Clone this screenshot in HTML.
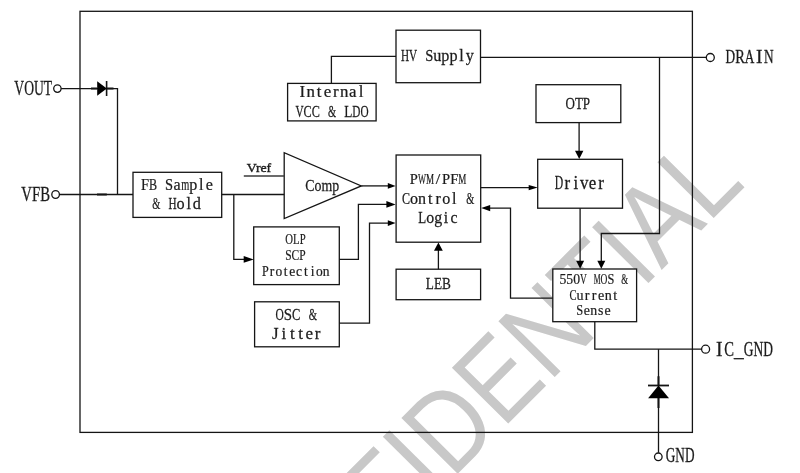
<!DOCTYPE html>
<html><head><meta charset="utf-8"><style>
html,body{margin:0;padding:0;background:#fff;width:800px;height:473px;overflow:hidden}
svg{display:block}
</style></head><body>
<svg width="800" height="473" viewBox="0 0 800 473">
<text transform="matrix(0.69806 -0.69815 0.81870 0.81063 234.97 696.75)" font-family="Liberation Sans" font-size="100" fill="#c8c8c8">CONFIDENTIAL</text>

<g fill="none" stroke="#151515" stroke-width="1.3">
<rect x="80" y="11.3" width="612.4" height="421.1"/>
<g fill="#fff">
<rect x="133" y="172.3" width="88.70" height="45.10"/>
<rect x="253.7" y="226.9" width="85.60" height="57.70"/>
<rect x="254.6" y="301.8" width="84.70" height="45.00"/>
<rect x="396.1" y="155" width="84.60" height="87.20"/>
<rect x="396.1" y="269.2" width="84.50" height="30.50"/>
<rect x="396" y="30.2" width="84.50" height="52.50"/>
<rect x="287.6" y="83.4" width="88.50" height="37.50"/>
<rect x="536" y="84.7" width="84.80" height="37.90"/>
<rect x="537.7" y="159.3" width="84.80" height="48.90"/>
<rect x="552.8" y="269.0" width="83.80" height="52.70"/>
<path d="M284.2 152.75 L284.2 218.6 L361.3 185.9 Z"/>
</g>
<circle cx="57.4" cy="88.6" r="3.7"/>
<path d="M61.1 88.6 H117.5 V194.5"/>
<path d="M91 88.6 H97 M107 88.6 H113.5" stroke-width="2"/>
<path d="M106.6 81 V96" stroke-width="1.6"/>
<circle cx="55.6" cy="194.5" r="3.8"/>
<path d="M59.4 194.5 H133"/>
<path d="M97 194.5 H106.8" stroke-width="2"/>
<path d="M221.7 194.5 H284.2 M233.8 194.5 V259.4 H245"/>
<path d="M243.8 175.9 H284.2" stroke="#3a3a3a" stroke-width="1.5"/>
<path d="M361.3 185.9 H388"/>
<path d="M339.3 259.4 H358.4 V204.4 H387"/>
<path d="M339.3 323.1 H369.5 V223.1 H388"/>
<path d="M438.4 269.2 V250"/>
<path d="M396 56.4 H331.4 V83.4"/>
<path d="M480.5 57.3 H706.3"/>
<circle cx="710.3" cy="57.5" r="4"/>
<path d="M659.5 57.3 V233.5 H601.3 V261"/>
<path d="M579.1 122.6 V151.5"/>
<path d="M480.7 187.6 H529"/>
<path d="M580.1 208.2 V261"/>
<path d="M552.8 298.1 H510.5 V208.1 H490"/>
<path d="M594.8 321.7 V349.2 H701.6"/>
<circle cx="705.6" cy="349.2" r="4"/>
<path d="M658.5 349.2 V452.8"/>
<circle cx="658.3" cy="456.8" r="3.8"/>
<path d="M658.5 376.2 V386 M658.5 398 V408" stroke-width="2"/>
<path d="M648 385.5 H669" stroke-width="1.8"/>
</g>
<g fill="#000" stroke="none">
<path d="M97.2 81.3 L97.2 95.8 L106.8 88.6 Z"/>
<path d="M648.1 398.3 L669 398.3 L658.5 385.5 Z"/>
<path d="M253.70 259.40 L243.70 256.10 L243.70 262.70 Z"/>
<path d="M395.60 185.90 L387.80 183.10 L387.80 188.70 Z"/>
<path d="M395.60 204.40 L386.40 201.10 L386.40 207.70 Z"/>
<path d="M395.60 223.10 L387.80 220.30 L387.80 225.90 Z"/>
<path d="M438.40 242.60 L434.00 250.80 L442.80 250.80 Z"/>
<path d="M579.20 159.00 L575.00 150.80 L583.40 150.80 Z"/>
<path d="M537.70 187.60 L528.70 184.90 L528.70 190.30 Z"/>
<path d="M580.10 268.80 L576.10 260.80 L584.10 260.80 Z"/>
<path d="M601.30 268.80 L597.30 260.80 L605.30 260.80 Z"/>
<path d="M481.20 208.10 L490.20 205.00 L490.20 211.20 Z"/>
</g>
<g fill="#1a1a1a" stroke="#1a1a1a" stroke-width="1.5" opacity="0.99">
<g transform="matrix(0.13600 0 0 0.20308 14.36 94.70)"><text font-family="Liberation Serif" font-size="100" xml:space="preserve">VOUT</text></g>
<g transform="matrix(0.14709 0 0 0.20154 21.35 200.70)"><text font-family="Liberation Serif" font-size="100" xml:space="preserve">VFB</text></g>
<g transform="matrix(0.19228 0 0 0.19848 725.52 62.80)"><text transform="translate(25.0 0) scale(0.692 1)" text-anchor="middle" font-family="Liberation Serif" font-size="100" >D</text><text transform="translate(75.0 0) scale(0.750 1)" text-anchor="middle" font-family="Liberation Serif" font-size="100" >R</text><text transform="translate(125.0 0) scale(0.692 1)" text-anchor="middle" font-family="Liberation Serif" font-size="100" >A</text><text transform="translate(175.0 0) scale(1.000 1)" text-anchor="middle" font-family="Liberation Serif" font-size="100" >I</text><text transform="translate(225.0 0) scale(0.692 1)" text-anchor="middle" font-family="Liberation Serif" font-size="100" >N</text></g>
<g transform="matrix(0.19474 0 0 0.20154 714.46 355.70)"><text transform="translate(25.0 0) scale(1.000 1)" text-anchor="middle" font-family="Liberation Serif" font-size="100" >I</text><text transform="translate(75.0 0) scale(0.750 1)" text-anchor="middle" font-family="Liberation Serif" font-size="100" >C</text><text transform="translate(125.0 0) scale(1.000 1)" text-anchor="middle" font-family="Liberation Serif" font-size="100" >_</text><text transform="translate(175.0 0) scale(0.692 1)" text-anchor="middle" font-family="Liberation Serif" font-size="100" >G</text><text transform="translate(225.0 0) scale(0.692 1)" text-anchor="middle" font-family="Liberation Serif" font-size="100" >N</text><text transform="translate(275.0 0) scale(0.692 1)" text-anchor="middle" font-family="Liberation Serif" font-size="100" >D</text></g>
<g transform="matrix(0.13254 0 0 0.20615 665.77 462.50)"><text font-family="Liberation Serif" font-size="100" xml:space="preserve">GND</text></g>
<g transform="matrix(0.16194 0 0 0.16667 400.88 60.80)"><text transform="translate(25.0 0) scale(0.692 1)" text-anchor="middle" font-family="Liberation Serif" font-size="100" >H</text><text transform="translate(75.0 0) scale(0.692 1)" text-anchor="middle" font-family="Liberation Serif" font-size="100" >V</text><text transform="translate(175.0 0) scale(0.899 1)" text-anchor="middle" font-family="Liberation Serif" font-size="100" >S</text><text transform="translate(225.0 0) scale(1.000 1)" text-anchor="middle" font-family="Liberation Serif" font-size="100" >u</text><text transform="translate(275.0 0) scale(1.000 1)" text-anchor="middle" font-family="Liberation Serif" font-size="100" >p</text><text transform="translate(325.0 0) scale(1.000 1)" text-anchor="middle" font-family="Liberation Serif" font-size="100" >p</text><text transform="translate(375.0 0) scale(1.000 1)" text-anchor="middle" font-family="Liberation Serif" font-size="100" >l</text><text transform="translate(425.0 0) scale(1.000 1)" text-anchor="middle" font-family="Liberation Serif" font-size="100" >y</text></g>
<g transform="matrix(0.16853 0 0 0.15652 297.98 97.10)"><text transform="translate(25.0 0) scale(1.000 1)" text-anchor="middle" font-family="Liberation Serif" font-size="100" >I</text><text transform="translate(75.0 0) scale(1.000 1)" text-anchor="middle" font-family="Liberation Serif" font-size="100" >n</text><text transform="translate(125.0 0) scale(1.000 1)" text-anchor="middle" font-family="Liberation Serif" font-size="100" >t</text><text transform="translate(175.0 0) scale(1.000 1)" text-anchor="middle" font-family="Liberation Serif" font-size="100" >e</text><text transform="translate(225.0 0) scale(1.000 1)" text-anchor="middle" font-family="Liberation Serif" font-size="100" >r</text><text transform="translate(275.0 0) scale(1.000 1)" text-anchor="middle" font-family="Liberation Serif" font-size="100" >n</text><text transform="translate(325.0 0) scale(1.000 1)" text-anchor="middle" font-family="Liberation Serif" font-size="100" >a</text><text transform="translate(375.0 0) scale(1.000 1)" text-anchor="middle" font-family="Liberation Serif" font-size="100" >l</text></g>
<g transform="matrix(0.16256 0 0 0.17538 295.44 117.10)"><text transform="translate(25.0 0) scale(0.692 1)" text-anchor="middle" font-family="Liberation Serif" font-size="100" >V</text><text transform="translate(75.0 0) scale(0.750 1)" text-anchor="middle" font-family="Liberation Serif" font-size="100" >C</text><text transform="translate(125.0 0) scale(0.750 1)" text-anchor="middle" font-family="Liberation Serif" font-size="100" >C</text><text transform="translate(225.0 0) scale(0.643 1)" text-anchor="middle" font-family="Liberation Serif" font-size="100" >&amp;</text><text transform="translate(325.0 0) scale(0.819 1)" text-anchor="middle" font-family="Liberation Serif" font-size="100" >L</text><text transform="translate(375.0 0) scale(0.692 1)" text-anchor="middle" font-family="Liberation Serif" font-size="100" >D</text><text transform="translate(425.0 0) scale(0.692 1)" text-anchor="middle" font-family="Liberation Serif" font-size="100" >O</text></g>
<g transform="matrix(0.16088 0 0 0.16304 140.92 189.85)"><text transform="translate(25.0 0) scale(0.899 1)" text-anchor="middle" font-family="Liberation Serif" font-size="100" >F</text><text transform="translate(75.0 0) scale(0.750 1)" text-anchor="middle" font-family="Liberation Serif" font-size="100" >B</text><text transform="translate(175.0 0) scale(0.899 1)" text-anchor="middle" font-family="Liberation Serif" font-size="100" >S</text><text transform="translate(225.0 0) scale(1.000 1)" text-anchor="middle" font-family="Liberation Serif" font-size="100" >a</text><text transform="translate(275.0 0) scale(0.643 1)" text-anchor="middle" font-family="Liberation Serif" font-size="100" >m</text><text transform="translate(325.0 0) scale(1.000 1)" text-anchor="middle" font-family="Liberation Serif" font-size="100" >p</text><text transform="translate(375.0 0) scale(1.000 1)" text-anchor="middle" font-family="Liberation Serif" font-size="100" >l</text><text transform="translate(425.0 0) scale(1.000 1)" text-anchor="middle" font-family="Liberation Serif" font-size="100" >e</text></g>
<g transform="matrix(0.16229 0 0 0.16667 152.18 209.00)"><text transform="translate(25.0 0) scale(0.643 1)" text-anchor="middle" font-family="Liberation Serif" font-size="100" >&amp;</text><text transform="translate(125.0 0) scale(0.692 1)" text-anchor="middle" font-family="Liberation Serif" font-size="100" >H</text><text transform="translate(175.0 0) scale(1.000 1)" text-anchor="middle" font-family="Liberation Serif" font-size="100" >o</text><text transform="translate(225.0 0) scale(1.000 1)" text-anchor="middle" font-family="Liberation Serif" font-size="100" >l</text><text transform="translate(275.0 0) scale(1.000 1)" text-anchor="middle" font-family="Liberation Serif" font-size="100" >d</text></g>
<g transform="matrix(0.13807 0 0 0.12676 246.76 171.90)"><text font-family="Liberation Serif" font-size="100" stroke-width="3" xml:space="preserve">Vref</text></g>
<g transform="matrix(0.13882 0 0 0.17692 305.34 190.80)"><text font-family="Liberation Serif" font-size="100" xml:space="preserve">Comp</text></g>
<g transform="matrix(0.16145 0 0 0.15538 409.82 183.60)"><text transform="translate(25.0 0) scale(0.899 1)" text-anchor="middle" font-family="Liberation Serif" font-size="100" >P</text><text transform="translate(75.0 0) scale(0.530 1)" text-anchor="middle" font-family="Liberation Serif" font-size="100" >W</text><text transform="translate(125.0 0) scale(0.562 1)" text-anchor="middle" font-family="Liberation Serif" font-size="100" >M</text><text transform="translate(175.0 0) scale(1.000 1)" text-anchor="middle" font-family="Liberation Serif" font-size="100" >/</text><text transform="translate(225.0 0) scale(0.899 1)" text-anchor="middle" font-family="Liberation Serif" font-size="100" >P</text><text transform="translate(275.0 0) scale(0.899 1)" text-anchor="middle" font-family="Liberation Serif" font-size="100" >F</text><text transform="translate(325.0 0) scale(0.562 1)" text-anchor="middle" font-family="Liberation Serif" font-size="100" >M</text></g>
<g transform="matrix(0.16076 0 0 0.16377 402.02 203.80)"><text transform="translate(25.0 0) scale(0.750 1)" text-anchor="middle" font-family="Liberation Serif" font-size="100" >C</text><text transform="translate(75.0 0) scale(1.000 1)" text-anchor="middle" font-family="Liberation Serif" font-size="100" >o</text><text transform="translate(125.0 0) scale(1.000 1)" text-anchor="middle" font-family="Liberation Serif" font-size="100" >n</text><text transform="translate(175.0 0) scale(1.000 1)" text-anchor="middle" font-family="Liberation Serif" font-size="100" >t</text><text transform="translate(225.0 0) scale(1.000 1)" text-anchor="middle" font-family="Liberation Serif" font-size="100" >r</text><text transform="translate(275.0 0) scale(1.000 1)" text-anchor="middle" font-family="Liberation Serif" font-size="100" >o</text><text transform="translate(325.0 0) scale(1.000 1)" text-anchor="middle" font-family="Liberation Serif" font-size="100" >l</text><text transform="translate(425.0 0) scale(0.643 1)" text-anchor="middle" font-family="Liberation Serif" font-size="100" >&amp;</text></g>
<g transform="matrix(0.15868 0 0 0.16923 418.28 222.70)"><text transform="translate(25.0 0) scale(0.819 1)" text-anchor="middle" font-family="Liberation Serif" font-size="100" >L</text><text transform="translate(75.0 0) scale(1.000 1)" text-anchor="middle" font-family="Liberation Serif" font-size="100" >o</text><text transform="translate(125.0 0) scale(1.000 1)" text-anchor="middle" font-family="Liberation Serif" font-size="100" >g</text><text transform="translate(175.0 0) scale(1.000 1)" text-anchor="middle" font-family="Liberation Serif" font-size="100" >i</text><text transform="translate(225.0 0) scale(1.000 1)" text-anchor="middle" font-family="Liberation Serif" font-size="100" >c</text></g>
<g transform="matrix(0.13260 0 0 0.16692 425.85 288.75)"><text font-family="Liberation Serif" font-size="100" xml:space="preserve">LEB</text></g>
<g transform="matrix(0.13039 0 0 0.17385 565.48 108.60)"><text font-family="Liberation Serif" font-size="100" xml:space="preserve">OTP</text></g>
<g transform="matrix(0.16851 0 0 0.17846 554.66 189.10)"><text transform="translate(25.0 0) scale(0.692 1)" text-anchor="middle" font-family="Liberation Serif" font-size="100" >D</text><text transform="translate(75.0 0) scale(1.000 1)" text-anchor="middle" font-family="Liberation Serif" font-size="100" >r</text><text transform="translate(125.0 0) scale(1.000 1)" text-anchor="middle" font-family="Liberation Serif" font-size="100" >i</text><text transform="translate(175.0 0) scale(1.000 1)" text-anchor="middle" font-family="Liberation Serif" font-size="100" >v</text><text transform="translate(225.0 0) scale(1.000 1)" text-anchor="middle" font-family="Liberation Serif" font-size="100" >e</text><text transform="translate(275.0 0) scale(1.000 1)" text-anchor="middle" font-family="Liberation Serif" font-size="100" >r</text></g>
<g transform="matrix(0.13712 0 0 0.13769 559.48 283.70)"><text transform="translate(25.0 0) scale(1.000 1)" text-anchor="middle" font-family="Liberation Serif" font-size="100" >5</text><text transform="translate(75.0 0) scale(1.000 1)" text-anchor="middle" font-family="Liberation Serif" font-size="100" >5</text><text transform="translate(125.0 0) scale(1.000 1)" text-anchor="middle" font-family="Liberation Serif" font-size="100" >0</text><text transform="translate(175.0 0) scale(0.692 1)" text-anchor="middle" font-family="Liberation Serif" font-size="100" >V</text><text transform="translate(275.0 0) scale(0.562 1)" text-anchor="middle" font-family="Liberation Serif" font-size="100" >M</text><text transform="translate(325.0 0) scale(0.692 1)" text-anchor="middle" font-family="Liberation Serif" font-size="100" >O</text><text transform="translate(375.0 0) scale(0.899 1)" text-anchor="middle" font-family="Liberation Serif" font-size="100" >S</text><text transform="translate(475.0 0) scale(0.643 1)" text-anchor="middle" font-family="Liberation Serif" font-size="100" >&amp;</text></g>
<g transform="matrix(0.14119 0 0 0.13846 569.38 299.60)"><text transform="translate(25.0 0) scale(0.750 1)" text-anchor="middle" font-family="Liberation Serif" font-size="100" >C</text><text transform="translate(75.0 0) scale(1.000 1)" text-anchor="middle" font-family="Liberation Serif" font-size="100" >u</text><text transform="translate(125.0 0) scale(1.000 1)" text-anchor="middle" font-family="Liberation Serif" font-size="100" >r</text><text transform="translate(175.0 0) scale(1.000 1)" text-anchor="middle" font-family="Liberation Serif" font-size="100" >r</text><text transform="translate(225.0 0) scale(1.000 1)" text-anchor="middle" font-family="Liberation Serif" font-size="100" >e</text><text transform="translate(275.0 0) scale(1.000 1)" text-anchor="middle" font-family="Liberation Serif" font-size="100" >n</text><text transform="translate(325.0 0) scale(1.000 1)" text-anchor="middle" font-family="Liberation Serif" font-size="100" >t</text></g>
<g transform="matrix(0.13866 0 0 0.13692 576.37 315.40)"><text transform="translate(25.0 0) scale(0.899 1)" text-anchor="middle" font-family="Liberation Serif" font-size="100" >S</text><text transform="translate(75.0 0) scale(1.000 1)" text-anchor="middle" font-family="Liberation Serif" font-size="100" >e</text><text transform="translate(125.0 0) scale(1.000 1)" text-anchor="middle" font-family="Liberation Serif" font-size="100" >n</text><text transform="translate(175.0 0) scale(1.000 1)" text-anchor="middle" font-family="Liberation Serif" font-size="100" >s</text><text transform="translate(225.0 0) scale(1.000 1)" text-anchor="middle" font-family="Liberation Serif" font-size="100" >e</text></g>
<g transform="matrix(0.10718 0 0 0.14077 285.37 243.75)"><text font-family="Liberation Serif" font-size="100" xml:space="preserve">OLP</text></g>
<g transform="matrix(0.11497 0 0 0.14000 285.20 259.70)"><text font-family="Liberation Serif" font-size="100" xml:space="preserve">SCP</text></g>
<g transform="matrix(0.13495 0 0 0.13692 262.00 275.70)"><text transform="translate(25.0 0) scale(0.899 1)" text-anchor="middle" font-family="Liberation Serif" font-size="100" >P</text><text transform="translate(75.0 0) scale(1.000 1)" text-anchor="middle" font-family="Liberation Serif" font-size="100" >r</text><text transform="translate(125.0 0) scale(1.000 1)" text-anchor="middle" font-family="Liberation Serif" font-size="100" >o</text><text transform="translate(175.0 0) scale(1.000 1)" text-anchor="middle" font-family="Liberation Serif" font-size="100" >t</text><text transform="translate(225.0 0) scale(1.000 1)" text-anchor="middle" font-family="Liberation Serif" font-size="100" >e</text><text transform="translate(275.0 0) scale(1.000 1)" text-anchor="middle" font-family="Liberation Serif" font-size="100" >c</text><text transform="translate(325.0 0) scale(1.000 1)" text-anchor="middle" font-family="Liberation Serif" font-size="100" >t</text><text transform="translate(375.0 0) scale(1.000 1)" text-anchor="middle" font-family="Liberation Serif" font-size="100" >i</text><text transform="translate(425.0 0) scale(1.000 1)" text-anchor="middle" font-family="Liberation Serif" font-size="100" >o</text><text transform="translate(475.0 0) scale(1.000 1)" text-anchor="middle" font-family="Liberation Serif" font-size="100" >n</text></g>
<g transform="matrix(0.16585 0 0 0.16923 275.50 320.20)"><text transform="translate(25.0 0) scale(0.692 1)" text-anchor="middle" font-family="Liberation Serif" font-size="100" >O</text><text transform="translate(75.0 0) scale(0.899 1)" text-anchor="middle" font-family="Liberation Serif" font-size="100" >S</text><text transform="translate(125.0 0) scale(0.750 1)" text-anchor="middle" font-family="Liberation Serif" font-size="100" >C</text><text transform="translate(225.0 0) scale(0.643 1)" text-anchor="middle" font-family="Liberation Serif" font-size="100" >&amp;</text></g>
<g transform="matrix(0.16961 0 0 0.16769 271.04 339.00)"><text transform="translate(25.0 0) scale(1.000 1)" text-anchor="middle" font-family="Liberation Serif" font-size="100" >J</text><text transform="translate(75.0 0) scale(1.000 1)" text-anchor="middle" font-family="Liberation Serif" font-size="100" >i</text><text transform="translate(125.0 0) scale(1.000 1)" text-anchor="middle" font-family="Liberation Serif" font-size="100" >t</text><text transform="translate(175.0 0) scale(1.000 1)" text-anchor="middle" font-family="Liberation Serif" font-size="100" >t</text><text transform="translate(225.0 0) scale(1.000 1)" text-anchor="middle" font-family="Liberation Serif" font-size="100" >e</text><text transform="translate(275.0 0) scale(1.000 1)" text-anchor="middle" font-family="Liberation Serif" font-size="100" >r</text></g>
</g>
</svg>
</body></html>
